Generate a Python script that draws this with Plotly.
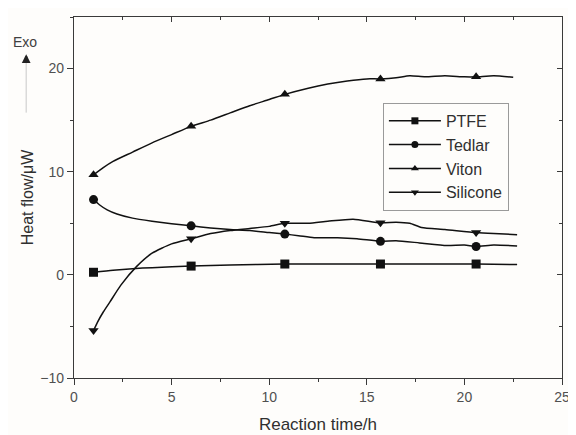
import plotly.graph_objects as go

# ---- data ----
marker_times = [1, 6, 10.8, 15.7, 20.6]

ptfe_x = [1, 2, 3, 4, 6, 8, 10.8, 13, 15.7, 18, 20.6, 22.7]
ptfe_y = [0.25, 0.45, 0.6, 0.7, 0.85, 0.95, 1.05, 1.05, 1.05, 1.05, 1.05, 1.0]

tedlar_x = [1, 1.3, 1.7, 2.2, 3, 4, 5, 6, 7, 8, 9, 10, 10.8, 11.5, 12.3, 13.5,
            14.5, 15.7, 16.5, 17.7, 19.1, 20, 20.6, 21.5, 22.7]
tedlar_y = [7.3, 6.8, 6.3, 5.9, 5.5, 5.2, 4.95, 4.75, 4.55, 4.4, 4.3, 4.1, 3.95,
            3.8, 3.6, 3.6, 3.5, 3.25, 3.3, 3.1, 2.85, 2.9, 2.75, 2.9, 2.8]

viton_x = [1, 1.5, 2, 3, 4, 5, 6, 7, 8, 9, 10, 10.8, 12, 13, 14, 15, 15.7,
           16.5, 17.2, 18, 19, 20, 20.6, 21.5, 22.5]
viton_y = [9.7, 10.4, 11.0, 11.9, 12.8, 13.6, 14.4, 15.0, 15.7, 16.4, 17.0, 17.5,
           18.1, 18.5, 18.8, 19.0, 19.0, 19.1, 19.3, 19.2, 19.3, 19.2, 19.2, 19.3, 19.15]

silicone_x = [1, 1.2, 1.5, 1.85, 2.4, 3.2, 4, 5, 6, 7, 8, 9, 10, 10.8, 12, 13,
              14.3, 15.7, 16.5, 17.2, 17.8, 19, 20.6, 21.5, 22.7]
silicone_y = [-5.4, -4.6, -3.6, -2.6, -1.0, 0.8, 2.1, 3.0, 3.5, 4.0, 4.3, 4.5, 4.7,
              5.0, 5.0, 5.2, 5.4, 5.05, 5.1, 5.0, 4.6, 4.4, 4.1, 4.0, 3.9]

series = [
    ("PTFE", ptfe_x, ptfe_y, "square"),
    ("Tedlar", tedlar_x, tedlar_y, "circle"),
    ("Viton", viton_x, viton_y, "triangle-up"),
    ("Silicone", silicone_x, silicone_y, "triangle-down"),
]

x_ticks = [0, 5, 10, 15, 20, 25]
y_ticks = [-10, 0, 10, 20]

FONT = "Liberation Sans, Arial, sans-serif"
AXC = "#3a3a3a"
INK = "#111111"

fig = go.Figure()
for name, xs, ys, sym in series:
    # continuous measured curve
    fig.add_trace(go.Scatter(
        x=xs, y=ys, mode="lines", showlegend=False, legendgroup=name,
        line=dict(color=INK, width=1.5, shape="spline", smoothing=0.6),
        hoverinfo="skip",
    ))
    # symbols at the marked times
    mx = [x for x in xs if x in marker_times]
    my = [y for x, y in zip(xs, ys) if x in marker_times]
    fig.add_trace(go.Scatter(
        x=mx, y=my, mode="markers", showlegend=False, legendgroup=name,
        marker=dict(symbol=sym, size=9, color=INK, line=dict(width=0)),
    ))
    # legend entry
    fig.add_trace(go.Scatter(
        x=[None], y=[None], name=name, mode="lines+markers", legendgroup=name,
        line=dict(color=INK, width=1.5),
        marker=dict(symbol=sym, size=7, color=INK, line=dict(width=0)),
    ))

# invisible trace to anchor the mirrored (top/right) axes
fig.add_trace(go.Scatter(x=[0], y=[0], xaxis="x2", yaxis="y2", mode="markers",
                         marker=dict(opacity=0), showlegend=False, hoverinfo="skip"))

common = dict(showline=True, linecolor=AXC, linewidth=1.3, showgrid=False,
              zeroline=False, tickcolor=AXC, tickwidth=1.2, automargin=False)

fig.update_layout(
    width=568, height=427,
    margin=dict(l=66, r=14, t=9, b=57),
    paper_bgcolor="#fefdfb", plot_bgcolor="#fefdfb",
    font=dict(family=FONT, color="#404040", size=14),
    xaxis=dict(range=[0, 25], tickvals=x_ticks, ticks="outside", ticklen=6,
               minor=dict(dtick=2.5, ticks="outside", ticklen=3, tickcolor=AXC),
               title=dict(text="Reaction time/h", font=dict(size=17, color="#303030"),
                          standoff=14),
               tickfont=dict(size=14, color="#505050"), **common),
    yaxis=dict(range=[-10, 25], tickvals=y_ticks, ticks="outside", ticklen=6,
               minor=dict(dtick=5, ticks="outside", ticklen=3, tickcolor=AXC),
               title=dict(text="Heat flow/μW", font=dict(size=16, color="#303030"),
                          standoff=2),
               tickfont=dict(size=14, color="#505050"), **common),
    xaxis2=dict(range=[0, 25], overlaying="x", side="top", anchor="y2",
                tickvals=x_ticks, ticks="inside", ticklen=5, showticklabels=False,
                minor=dict(dtick=2.5, ticks="inside", ticklen=3, tickcolor=AXC), **common),
    yaxis2=dict(range=[-10, 25], overlaying="y", side="right", anchor="x2",
                tickvals=y_ticks, ticks="inside", ticklen=5, showticklabels=False,
                minor=dict(dtick=5, ticks="inside", ticklen=3, tickcolor=AXC), **common),
    legend=dict(x=0.633, y=0.762, xanchor="left", yanchor="top",
                bordercolor="#9a9a9a", borderwidth=1, bgcolor="rgba(0,0,0,0)",
                font=dict(size=16, color="#303030", family=FONT),
                itemwidth=52, tracegroupgap=0),
    showlegend=True,
)

# "Exo" direction indicator
fig.add_annotation(xref="paper", yref="paper", x=-0.100, y=0.932, text="Exo",
                   xanchor="center", yanchor="middle",
                   showarrow=False, font=dict(size=14, color="#404040"))
fig.add_annotation(xref="paper", yref="paper", x=-0.098, y=0.875, text="",
                   showarrow=True, arrowhead=0, arrowwidth=1, arrowcolor="#c8c8c8",
                   ax=0, ay=52)
fig.add_annotation(xref="paper", yref="paper", x=-0.098, y=0.897, text="",
                   showarrow=True, arrowhead=2, arrowsize=0.7, arrowwidth=2.5,
                   arrowcolor="#222222", ax=0, ay=8)

fig.write_html("out.html")
